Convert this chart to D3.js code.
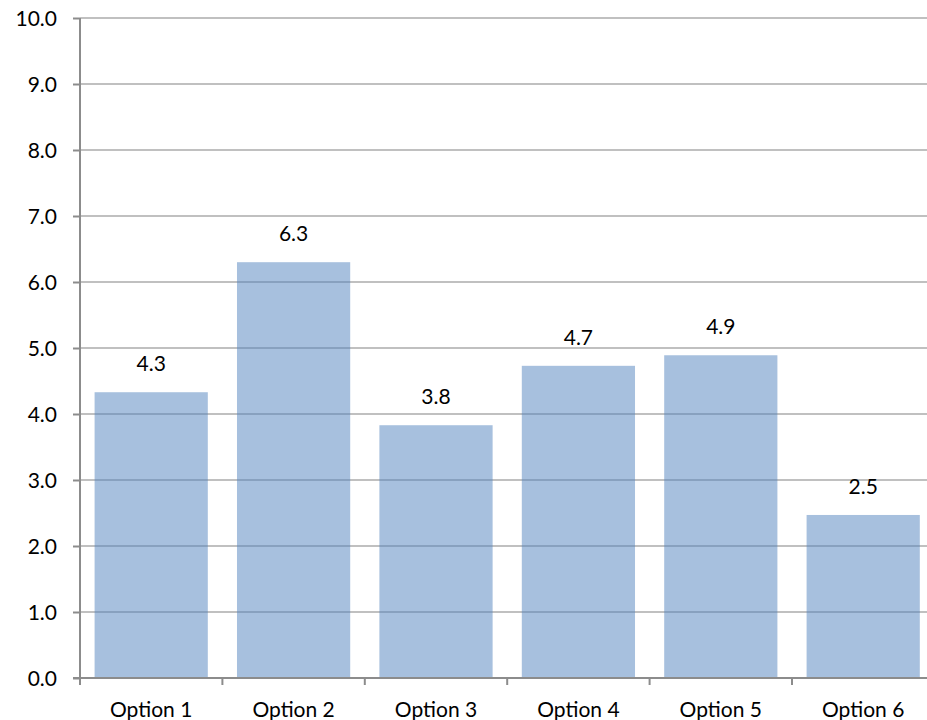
<!DOCTYPE html>
<html><head><meta charset="utf-8">
<script src="https://cdn.jsdelivr.net/npm/d3@7"></script>
<style>body{margin:0;background:#fff}svg{display:block}</style>
</head><body><svg id="c" width="927" height="720"></svg>
<script>
const categories = ["Option 1","Option 2","Option 3","Option 4","Option 5","Option 6"];
const values = [4.33, 6.30, 3.83, 4.73, 4.89, 2.47];
const yTicks = [0,1,2,3,4,5,6,7,8,9,10];

(function () {
const svg = d3.select("#c");
const font = "Lato, 'Open Sans', sans-serif";
const fs = 21;
const mLeft = 80, mRight = 934.4, mTop = 18, mBottom = 678;
const x = d3.scaleBand().domain(categories).range([mLeft, mRight]).paddingInner(0.205).paddingOuter(0.1025);
const y = d3.scaleLinear().domain([0, 10]).range([mBottom, mTop]);
const step = (mRight - mLeft) / categories.length;

// gridlines
svg.append("g").selectAll("line").data(yTicks.filter(d => d > 0)).join("line")
  .attr("x1", mLeft).attr("x2", 927).attr("y1", d => y(d)).attr("y2", d => y(d))
  .attr("stroke", "#c0c0c0").attr("stroke-width", 2);

// bars
svg.append("g").selectAll("rect").data(values).join("rect")
  .attr("x", (d, i) => x(categories[i])).attr("width", x.bandwidth())
  .attr("y", d => y(d)).attr("height", d => y(0) - y(d))
  .attr("fill", "rgb(79,129,189)").attr("fill-opacity", 0.5);

// value labels
svg.append("g").selectAll("text").data(values).join("text")
  .attr("x", (d, i) => x(categories[i]) + x.bandwidth() / 2)
  .attr("y", d => y(d) - 21)
  .attr("text-anchor", "middle").attr("font-family", font).attr("font-size", fs).attr("fill", "#000")
  .text(d => d.toFixed(1));

// y axis
const yAxis = svg.append("g").attr("transform", `translate(${mLeft},0)`)
  .call(d3.axisLeft(y).tickValues(yTicks).tickSize(7).tickPadding(16).tickFormat(d3.format(".1f")));
yAxis.select(".domain").attr("stroke", "#8c8c8c").attr("stroke-width", 2).attr("d", `M0,${mTop}V${mBottom}`);
yAxis.selectAll(".tick line").attr("stroke", "#8c8c8c").attr("stroke-width", 2);
yAxis.selectAll("text").attr("font-family", font).attr("font-size", fs).attr("fill", "#000").attr("dy", "0.38em");

// x axis
const xAxis = svg.append("g").attr("transform", `translate(0,${mBottom})`);
xAxis.append("line").attr("x1", mLeft - 7).attr("x2", 927).attr("y1", 0).attr("y2", 0)
  .attr("stroke", "#8c8c8c").attr("stroke-width", 2);
const bounds = d3.range(categories.length + 1).map(i => mLeft + i * step);
xAxis.selectAll("line.tk").data(bounds).join("line").attr("class", "tk")
  .attr("x1", d => d).attr("x2", d => d).attr("y1", 0).attr("y2", 7)
  .attr("stroke", "#8c8c8c").attr("stroke-width", 2);
xAxis.selectAll("text").data(categories).join("text")
  .attr("x", d => x(d) + x.bandwidth() / 2).attr("y", 39)
  .attr("text-anchor", "middle").attr("font-family", font).attr("font-size", fs).attr("fill", "#000")
  .text(d => d);
})();
</script></body></html>
